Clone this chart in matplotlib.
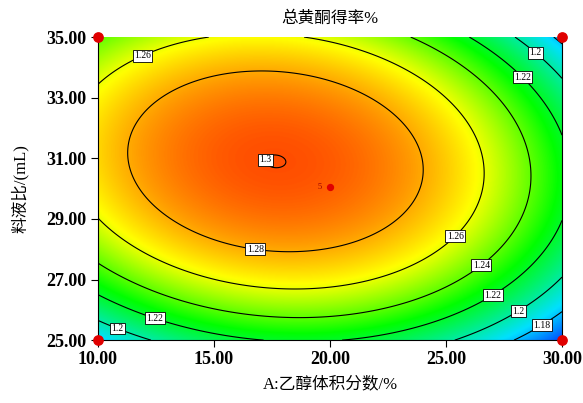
import numpy as np
import matplotlib
matplotlib.use("Agg")
import matplotlib.pyplot as plt
from matplotlib.colors import LinearSegmentedColormap

plt.rcParams['font.family'] = ['Liberation Serif', 'Noto Sans CJK SC']

# Quadratic response surface (coded units X=(A-20)/10, Y=(B-30)/5), centred form
peak_value = 1.3001
peak_X = -0.235
peak_Y = 0.18
curv_X = 0.050
curv_Y = 0.057
inter_XY = -0.010

x_ticks = [10.0, 15.0, 20.0, 25.0, 30.0]
y_ticks = [25.0, 27.0, 29.0, 31.0, 33.0, 35.0]
levels = [1.18, 1.20, 1.22, 1.24, 1.26, 1.28, 1.30]
design_x = [10, 10, 30, 30]
design_y = [25, 35, 25, 35]
center_x = [20]
center_y = [30.05]
center_count = "5"
title = "总黄酮得率%"
xlabel = "A:乙醇体积分数/%"
ylabel = "料液比/(mL)"

label_pos = [(11.8, 34.6), (29.0, 34.6), (28.4, 33.75), (17.2, 30.95), (16.8, 28.1),
             (25.3, 28.5), (26.4, 27.6), (26.9, 26.65), (28.0, 26.1), (29.05, 25.6),
             (10.9, 25.5), (12.5, 25.8)]

A = np.linspace(10, 30, 600)
B = np.linspace(25, 35, 600)
AA, BB = np.meshgrid(A, B)
dX = (AA - 20) / 10 - peak_X
dY = (BB - 30) / 5 - peak_Y
Z = peak_value - curv_X * dX**2 - curv_Y * dY**2 + inter_XY * dX * dY

cmap = LinearSegmentedColormap.from_list("de", [(0.0, "#0030ff"), (0.2, "#00e0ff"),
                                               (0.48, "#00ff00"), (0.72, "#ffff00"),
                                               (0.86, "#ff9800"), (1.0, "#ff3800")])

fig = plt.figure(figsize=(5.83, 4.03), dpi=100)
ax = fig.add_axes([0.168, 0.156, 0.796, 0.752])
ax.imshow(Z, extent=[10, 30, 25, 35], origin='lower', aspect='auto', cmap=cmap,
          vmin=1.155, vmax=1.305, interpolation='bilinear')
cs = ax.contour(AA, BB, Z, levels=levels, colors='black', linewidths=0.8)
lbls = ax.clabel(cs, inline=False, fontsize=7, fmt=lambda v: f"{v:g}", manual=label_pos)
for t in lbls:
    t.set_bbox(dict(boxstyle='square,pad=0.15', fc='white', ec='black', lw=0.6))
    t.set_rotation(0)

ax.scatter(design_x, design_y, s=45, marker='o', color='#e00000', zorder=5, clip_on=False)
ax.scatter(center_x, center_y, s=18, marker='o', color='#e00000', zorder=5)
ax.text(center_x[0] - 0.35, center_y[0], center_count, fontsize=6, ha='right', va='center',
        color='#990000')

ax.set_xlim(10, 30)
ax.set_ylim(25, 35)
ax.set_xticks(x_ticks)
ax.set_yticks(y_ticks)
ax.set_xticklabels([f"{v:.2f}" for v in x_ticks], fontsize=13, fontweight='bold')
ax.set_yticklabels([f"{v:.2f}" for v in y_ticks], fontsize=13, fontweight='bold')
ax.tick_params(direction='out', length=5, width=0.8, pad=3)
ax.spines['top'].set_visible(False)
for s in ['left', 'right', 'bottom']:
    ax.spines[s].set_linewidth(0.8)
ax.set_title(title, fontsize=12, pad=10)
ax.set_xlabel(xlabel, fontsize=12, labelpad=6)
ax.set_ylabel(ylabel, fontsize=12, labelpad=13)

fig.savefig("out.png", dpi=100)
